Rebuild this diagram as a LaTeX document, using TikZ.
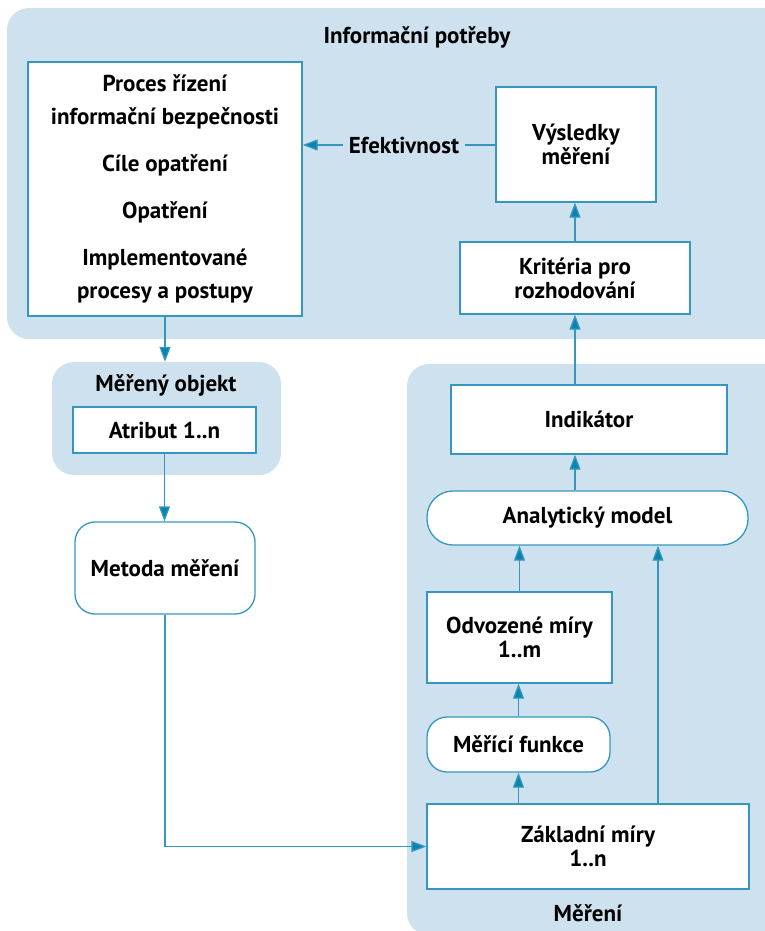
\documentclass[tikz,border=0pt]{standalone}
\usepackage{fontspec}
\setmainfont{PT Sans}
\usetikzlibrary{arrows.meta}
\definecolor{regionblue}{HTML}{CDE2EE}
\definecolor{linkblue}{HTML}{3597BF}
\definecolor{tipblue}{HTML}{0A84AE}
\begin{document}
\begin{tikzpicture}[x=1pt, y=-1pt,
  region/.style={fill=regionblue, rounded corners=22pt, inner sep=0pt},
  box/.style={draw=linkblue, line width=1.3pt, fill=white, align=center, inner sep=0pt, font=\fontsize{23}{24}\selectfont\bfseries},
  roundbox/.style={box, rounded corners=20pt},
  title/.style={font=\fontsize{23}{24}\selectfont\bfseries},
  link/.style={draw=linkblue, line width=1.3pt},
  arrow/.style={link, -{Triangle[length=15pt, width=11pt, fill=tipblue]}}]
\useasboundingbox (0,0) rectangle (764,931);
% regions
\node[region, minimum width=783pt, minimum height=331pt] (potreby) at (398.5,173.5) {};
\node[region, minimum width=229pt, minimum height=113pt] (objekt) at (166.5,418.5) {};
\node[region, minimum width=383pt, minimum height=571pt] (mereni) at (598.5,649.5) {};
\node[title] (potrebytitle) at (417,37) {Informační potřeby};
\node[title] (objekttitle) at (166,385) {Měřený objekt};
\node[title] (merenititle) at (588,913) {Měření};
% boxes
\node[box, font=\fontsize{23}{33}\selectfont\bfseries, minimum width=274pt, minimum height=254pt] (proces) at (165,189)
  {Proces řízení\\informační bezpečnosti\\[14pt]Cíle opatření\\[14pt]Opatření\\[14pt]Implementované\\procesy a postupy};
\node[box, minimum width=160pt, minimum height=115pt] (vysledky) at (576,144.5) {Výsledky\\měření};
\node[title, inner sep=6pt] (efekt) at (404,145) {Efektivnost};
\node[box, minimum width=230pt, minimum height=72pt] (kriteria) at (575,278) {Kritéria pro\\rozhodování};
\node[box, minimum width=183pt, minimum height=46pt] (atribut) at (164.5,430) {Atribut 1..n};
\node[roundbox, minimum width=180pt, minimum height=92pt] (metoda) at (165,568) {Metoda měření};
\node[box, minimum width=276pt, minimum height=69pt] (indikator) at (589,419.5) {Indikátor};
\node[roundbox, rounded corners=26pt, minimum width=321pt, minimum height=54pt] (analyticky) at (587.5,518) {Analytický model};
\node[box, minimum width=185pt, minimum height=91pt] (odvozene) at (519.5,637.5) {Odvozené míry\\1..m};
\node[roundbox, minimum width=183pt, minimum height=55pt] (funkce) at (518.5,744.5) {Měřící funkce};
\node[box, minimum width=322pt, minimum height=85pt] (zakladni) at (588,846.5) {Základní míry\\1..n};
% connectors
\draw[arrow] (proces.south) -- (proces.south |- objekt.north);
\draw[arrow] (atribut.south) -- (atribut.south |- metoda.north);
\draw[arrow] (metoda.south) |- (zakladni.west);
\draw[arrow] (zakladni.north -| funkce.south) -- (funkce.south);
\draw[arrow] (funkce.north) -- (funkce.north |- odvozene.south);
\draw[arrow] (odvozene.north) -- (odvozene.north |- analyticky.south);
\draw[arrow] ([xshift=70pt]zakladni.north) -- ([xshift=70pt]zakladni.north |- analyticky.south);
\draw[arrow] (analyticky.north -| kriteria.north) -- (indikator.south -| kriteria.north);
\draw[arrow] (indikator.north -| kriteria.south) -- (kriteria.south);
\draw[arrow] (kriteria.north) -- (kriteria.north |- vysledky.south);
\draw[link] (vysledky.west |- efekt) -- (efekt);
\draw[arrow] (efekt) -- (proces.east |- efekt);
\end{tikzpicture}
\end{document}
